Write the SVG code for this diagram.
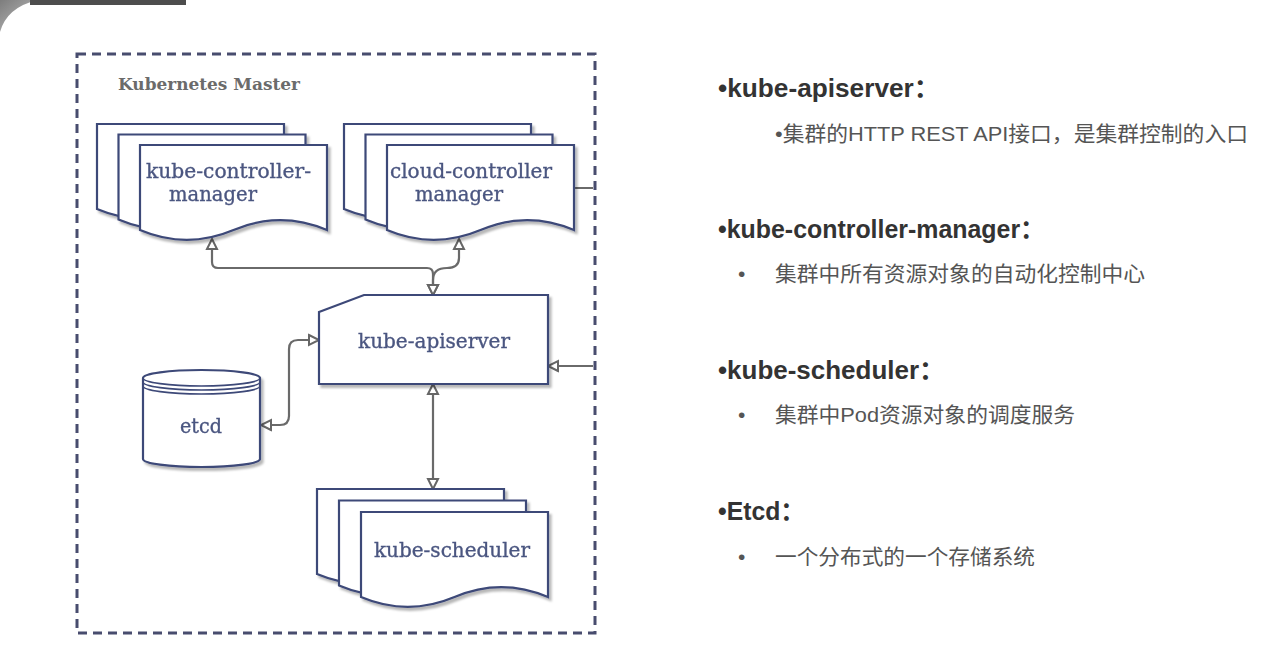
<svg xmlns="http://www.w3.org/2000/svg" width="1280" height="650" viewBox="0 0 1280 650">
<defs>
<linearGradient id="cornerGrad" x1="0" y1="0" x2="1" y2="1">
<stop offset="0" stop-color="#7d7d7d"/>
<stop offset="1" stop-color="#c4c4c4"/>
</linearGradient>
<filter id="shadow" x="-10%" y="-10%" width="130%" height="130%">
<feDropShadow dx="2.5" dy="3" stdDeviation="1.2" flood-color="#000" flood-opacity="0.28"/>
</filter>
<marker id="arrow" markerUnits="userSpaceOnUse" markerWidth="16" markerHeight="16" viewBox="0 0 16 16" refX="13" refY="8" orient="auto-start-reverse">
<path d="M3,3 L13,8 L3,13 Z" fill="#ffffff" stroke="#666666" stroke-width="2" stroke-linejoin="miter"/>
</marker>
<style>
.sheet{fill:#ffffff;stroke:#3d4878;stroke-width:2.2;stroke-linejoin:miter}
.node-label{font-family:"DejaVu Serif","Liberation Serif",serif;font-size:20px;fill:#4b5680;stroke:#4b5680;stroke-width:0.35}
.edge{fill:none;stroke:#6a6a6a;stroke-width:2.2}
.title{font-family:"Liberation Sans","Noto Sans CJK SC",sans-serif;font-weight:bold;font-size:25px;fill:#333333}
.sub{font-family:"Liberation Sans","Noto Sans CJK SC",sans-serif;font-size:21px;fill:#555555}
</style>
</defs>
<rect x="0" y="0" width="1280" height="650" fill="#ffffff"/>
<path d="M0,0 H38 Q7,7 0,32 Z" fill="url(#cornerGrad)"/>
<rect x="30" y="0" width="156" height="5" fill="#4d4d4d"/>

<g id="connectors">
<path class="edge" d="M212,239 V262 Q212,268 218,268 H427 Q433,268 433,274 V295" marker-start="url(#arrow)" marker-end="url(#arrow)"/>
<path class="edge" d="M459,239 V258 Q459,268 447,268 Q433,268 433,280 V295" marker-start="url(#arrow)" marker-end="url(#arrow)"/>
<path class="edge" d="M261,425 H280 Q289,425 289,416 V349 Q289,340 298,340 H319" marker-start="url(#arrow)" marker-end="url(#arrow)"/>
<path class="edge" d="M433,384 V489" marker-start="url(#arrow)" marker-end="url(#arrow)"/>
<path class="edge" d="M574,188 H595 V366 H548" marker-end="url(#arrow)"/>
</g>

<g id="master-border">
<rect x="77" y="54" width="518" height="579" fill="none" stroke="#ffffff" stroke-width="4"/>
<rect x="77" y="54" width="518" height="579" fill="none" stroke="#484c6e" stroke-width="3" stroke-dasharray="9 6"/>
<text x="118" y="90" textLength="182" lengthAdjust="spacingAndGlyphs" style="font-family:'DejaVu Serif','Liberation Serif',serif;font-weight:bold;font-size:17px;fill:#6b6b6b">Kubernetes Master</text>
</g>

<g id="kube-controller-manager" filter="url(#shadow)">
<path class="sheet" d="M97,124 H284 V209 Q237.25,189.2 190.5,209 Q143.75,228.8 97,209 Z"/>
<path class="sheet" d="M118.5,134.5 H305.5 V219.5 Q258.75,199.7 212,219.5 Q165.25,239.3 118.5,219.5 Z"/>
<path class="sheet" d="M140,145 H327 V230 Q280.25,210.2 233.5,230 Q186.75,249.8 140,230 Z"/>
<text class="node-label" x="146" y="178" textLength="165" lengthAdjust="spacingAndGlyphs">kube-controller-</text>
<text class="node-label" x="169" y="201" textLength="88" lengthAdjust="spacingAndGlyphs">manager</text>
</g>

<g id="cloud-controller-manager" filter="url(#shadow)">
<path class="sheet" d="M344,124 H531 V209 Q484.25,189.2 437.5,209 Q390.75,228.8 344,209 Z"/>
<path class="sheet" d="M365.5,134.5 H552.5 V219.5 Q505.75,199.7 459,219.5 Q412.25,239.3 365.5,219.5 Z"/>
<path class="sheet" d="M387,145 H574 V230 Q527.25,210.2 480.5,230 Q433.75,249.8 387,230 Z"/>
<text class="node-label" x="390" y="178" textLength="162" lengthAdjust="spacingAndGlyphs">cloud-controller</text>
<text class="node-label" x="415" y="201" textLength="88" lengthAdjust="spacingAndGlyphs">manager</text>
</g>

<g id="kube-apiserver" filter="url(#shadow)">
<path class="sheet" d="M319,312 L364,295 H548 V384 H319 Z"/>
<text class="node-label" x="358" y="348" textLength="152" lengthAdjust="spacingAndGlyphs">kube-apiserver</text>
</g>

<g id="etcd" filter="url(#shadow)">
<path class="sheet" d="M143,378 A58.5,8 0 0 1 260,378 V459 A58.5,8 0 0 1 143,459 Z"/>
<path class="sheet" d="M143,378 A58.5,8 0 0 0 260,378 M143,382 A58.5,8 0 0 0 260,382 M143,386 A58.5,8 0 0 0 260,386" style="fill:none;stroke-width:1.6"/>
<text class="node-label" x="180" y="433" textLength="42" lengthAdjust="spacingAndGlyphs">etcd</text>
</g>

<g id="kube-scheduler" filter="url(#shadow)">
<path class="sheet" d="M317,489 H504 V574 Q457.25,554.2 410.5,574 Q363.75,593.8 317,574 Z"/>
<path class="sheet" d="M339,500.5 H526 V585.5 Q479.25,565.7 432.5,585.5 Q385.75,605.3 339,585.5 Z"/>
<path class="sheet" d="M361,512 H548 V597 Q501.25,577.2 454.5,597 Q407.75,616.8 361,597 Z"/>
<text class="node-label" x="374" y="557" textLength="156" lengthAdjust="spacingAndGlyphs">kube-scheduler</text>
</g>

<g id="notes">
<text class="title" x="718" y="97" textLength="222" lengthAdjust="spacingAndGlyphs">•kube-apiserver：</text>
<text class="sub" x="775" y="141" textLength="473" lengthAdjust="spacingAndGlyphs">•集群的HTTP REST API接口，是集群控制的入口</text>
<text class="title" x="718" y="238" textLength="327" lengthAdjust="spacingAndGlyphs">•kube-controller-manager：</text>
<text class="sub" x="738">
<tspan x="738" y="281">•</tspan><tspan x="775" y="281" textLength="370" lengthAdjust="spacingAndGlyphs">集群中所有资源对象的自动化控制中心</tspan>
</text>
<text class="title" x="718" y="379" textLength="227" lengthAdjust="spacingAndGlyphs">•kube-scheduler：</text>
<text class="sub" x="738">
<tspan x="738" y="422">•</tspan><tspan x="775" y="422" textLength="300" lengthAdjust="spacingAndGlyphs">集群中Pod资源对象的调度服务</tspan>
</text>
<text class="title" x="718" y="520" textLength="87" lengthAdjust="spacingAndGlyphs">•Etcd：</text>
<text class="sub" x="738">
<tspan x="738" y="564">•</tspan><tspan x="775" y="564" textLength="260" lengthAdjust="spacingAndGlyphs">一个分布式的一个存储系统</tspan>
</text>
</g>
</svg>
